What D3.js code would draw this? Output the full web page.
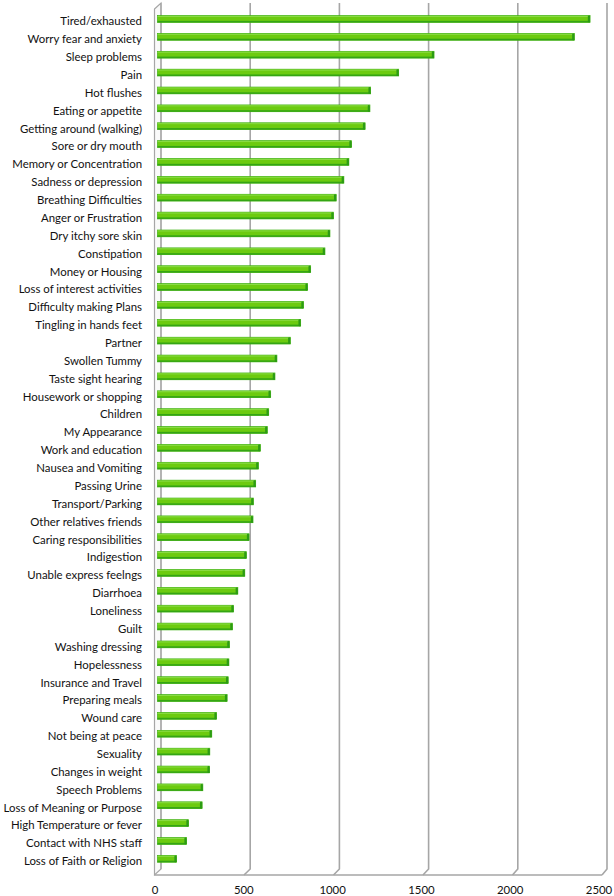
<!DOCTYPE html>
<html><head><meta charset="utf-8">
<script src="https://cdn.jsdelivr.net/npm/d3@7"></script>
<style>html,body{margin:0;padding:0;background:#fff;}svg{display:block;}</style>
</head><body>
<script>
const categories = ["Tired/exhausted","Worry fear and anxiety","Sleep problems","Pain","Hot flushes","Eating or appetite","Getting around (walking)","Sore or dry mouth","Memory or Concentration","Sadness or depression","Breathing Difficulties","Anger or Frustration","Dry itchy sore skin","Constipation","Money or Housing","Loss of interest activities","Difficulty making Plans","Tingling in hands feet","Partner","Swollen Tummy","Taste sight hearing","Housework or shopping","Children","My Appearance","Work and education","Nausea and Vomiting","Passing Urine","Transport/Parking","Other relatives friends","Caring responsibilities","Indigestion","Unable express feelngs","Diarrhoea","Loneliness","Guilt","Washing dressing","Hopelessness","Insurance and Travel","Preparing meals","Wound care","Not being at peace","Sexuality","Changes in weight","Speech Problems","Loss of Meaning or Purpose","High Temperature or fever","Contact with NHS staff","Loss of Faith or Religion"];
const values = [2423,2335,1549,1351,1194,1190,1163,1087,1072,1044,1001,986,966,938,858,841,818,802,744,669,658,634,623,615,576,565,550,537,535,513,498,489,450,426,420,403,400,396,390,331,304,293,292,254,250,174,163,107];
const tickValues = [0,500,1000,1500,2000,2500];

const W = 614, H = 896;
const svg = d3.select("body").append("svg").attr("width", W).attr("height", H);
svg.append("rect").attr("width", W).attr("height", H).attr("fill", "#fff");

const xBack = d3.scaleLinear().domain([0,2500]).range([161,607]);
const xFront = d3.scaleLinear().domain([0,2500]).range([154.5,602]);
const xBar = d3.scaleLinear().domain([0,2500]).range([157.5,603.8]);
const xLabel = d3.scaleLinear().domain([0,2500]).range([155,599]);
const y = d3.scaleBand().domain(categories).range([4.5,873.3]).padding(0.62);

const backTop = 3, backBot = 869, frontBot = 875, frontTop = 9;
const gridCol = "#a6a6a6";

svg.append("path")
  .attr("d", `M${xFront(0)},${frontTop} L${xBack(0)},${backTop} L${xBack(0)},${backBot} L${xFront(0)},${frontBot} Z`)
  .attr("fill", "#fafafa").attr("stroke", gridCol).attr("stroke-width", 1.2);

svg.append("g").selectAll("path").data(tickValues.slice(1)).join("path")
  .attr("d", d => `M${xBack(d)},${backTop} L${xBack(d)},${backBot} L${xFront(d)},${frontBot}`)
  .attr("fill", "none").attr("stroke", gridCol).attr("stroke-width", 1.6);
svg.append("path").attr("d", `M${xBack(0)},${backTop} L${xBack(0)},${backBot}`)
  .attr("stroke", gridCol).attr("stroke-width", 1.2);
svg.append("path").attr("d", `M${xFront(0)},${frontBot} L${xFront(2500)},${frontBot}`)
  .attr("stroke", gridCol).attr("stroke-width", 1.6);

const bh = y.bandwidth();
const bars = svg.append("g").selectAll("g").data(categories).join("g");
bars.append("rect")
  .attr("x", xBar(0)).attr("y", (d)=>y(d))
  .attr("width", (d,i)=>xBar(values[i]) - xBar(0)).attr("height", bh)
  .attr("fill", "#6ccb10").attr("stroke", "#3db012").attr("stroke-width", 0.7);
bars.append("rect")
  .attr("x", xBar(0)).attr("y", d=>y(d)+bh-1.5)
  .attr("width", (d,i)=>xBar(values[i]) - xBar(0)).attr("height", 1.5)
  .attr("fill", "#34a514");
bars.append("rect")
  .attr("x", xBar(0)).attr("y", d=>y(d)+0.4)
  .attr("width", (d,i)=>xBar(values[i]) - xBar(0)).attr("height", 1)
  .attr("fill", "#8bdc45");
bars.append("rect")
  .attr("x", (d,i)=>xBar(values[i]) - 2.2).attr("y", d=>y(d))
  .attr("width", 2.2).attr("height", bh).attr("rx", 1)
  .attr("fill", "#2c9b14");

svg.append("g").selectAll("text").data(categories).join("text")
  .attr("x", 142).attr("y", d => y(d) + bh/2 + 3.5)
  .attr("text-anchor", "end").attr("dominant-baseline", "middle")
  .attr("font-family", "Lato, 'Open Sans', sans-serif").attr("font-size", 11.4)
  .attr("fill", "#111").text(d => d);

svg.append("g").selectAll("text").data(tickValues).join("text")
  .attr("x", d => xLabel(d)).attr("y", 891)
  .attr("text-anchor", "middle").attr("dominant-baseline", "middle")
  .attr("font-family", "Lato, 'Open Sans', sans-serif").attr("font-size", 11.4)
  .attr("fill", "#111").text(d => d);
</script>
</body></html>
